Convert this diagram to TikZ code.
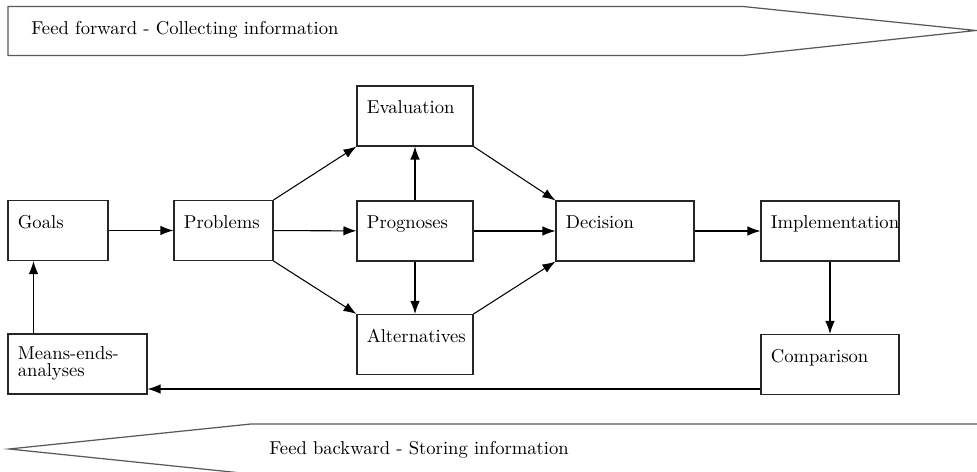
\documentclass[tikz,border=0pt]{standalone}
\usetikzlibrary{arrows.meta}
\tikzset{
  stage/.style={draw=black!85, line width=0.6pt, minimum height=1.2cm, inner sep=0pt},
  stagelabel/.style={anchor=north west, inner sep=0pt, xshift=0.2cm, yshift=-0.3cm,
    align=left, font=\fontsize{10.6}{9.6}\selectfont},
  flow/.style={draw=black, line width=0.6pt, -{Latex[length=0.26cm,width=0.19cm]}},
  banner/.style={draw=black!65, line width=0.7pt, line join=miter},
  bannerlabel/.style={anchor=base west, inner sep=0pt, font=\fontsize{10.6}{12}\selectfont},
}

\begin{document}
\begin{tikzpicture}[x=0.02cm, y=-0.02cm]
\useasboundingbox (0,0) rectangle (977,472);
\clip (0,0) rectangle (977,472);
% feed forward / feed backward banners
\draw[banner] (8,6.5) -- (743,6.5) -- (976,30.5) -- (743,55.5) -- (8,55.5) -- cycle;
\node[bannerlabel] (fwd) at (31,35) {Feed forward - Collecting information};
\draw[banner] (990,424) -- (251,424) -- (9,449) -- (251,474);
\node[bannerlabel] (bwd) at (269,455) {Feed backward - Storing information};
% stages
\node[stage, minimum width=2.0cm, label={[stagelabel]north west:Goals}] (gls) at (58,230.5) {};
\node[stage, minimum width=1.98cm, label={[stagelabel]north west:Problems}] (prb) at (223.5,230.5) {};
\node[stage, minimum width=2.78cm, label={[stagelabel, yshift=0.04cm]north west:Means-ends-\\analyses}] (mea) at (77.5,364) {};
\node[stage, minimum width=2.32cm, label={[stagelabel]north west:Evaluation}] (evl) at (415,116) {};
\node[stage, minimum width=2.32cm, label={[stagelabel]north west:Prognoses}] (prg) at (415,231) {};
\node[stage, minimum width=2.32cm, label={[stagelabel]north west:Alternatives}] (alt) at (415,344.5) {};
\node[stage, minimum width=2.76cm, label={[stagelabel]north west:Decision}] (dec) at (625,231) {};
\node[stage, minimum width=2.76cm, label={[stagelabel]north west:Implementation}] (imp) at (830,231) {};
\node[stage, minimum width=2.76cm, label={[stagelabel]north west:Comparison}] (cmp) at (830,364.5) {};
% connectors
\draw[flow] (gls) -- (prb);
\draw[flow] (prb.north east) -- (evl.south west);
\draw[flow] (prb) -- (prg);
\draw[flow] (prb.south east) -- (alt.north west);
\draw[flow] (prg) -- (evl);
\draw[flow] (prg) -- (alt);
\draw[flow] (evl.south east) -- (dec.north west);
\draw[flow] (prg) -- (dec);
\draw[flow] (alt.north east) -- (dec.south west);
\draw[flow] (dec) -- (imp);
\draw[flow] (imp) -- (cmp);
\draw[flow] ([yshift=0.12cm]cmp.south west) -- ([yshift=0.12cm]cmp.south west -| mea.east);
\draw[flow] ([xshift=0.52cm]mea.north west) -- ([xshift=0.52cm]mea.north west |- gls.south);
\end{tikzpicture}
\end{document}
